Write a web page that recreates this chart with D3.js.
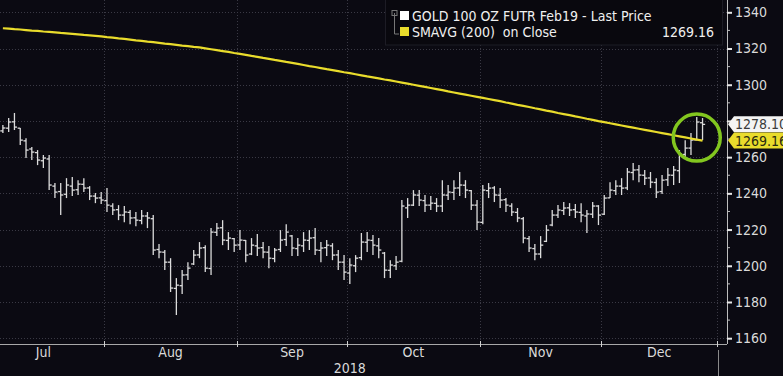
<!DOCTYPE html>
<html>
<head>
<meta charset="UTF-8">
<script src="https://d3js.org/d3.v7.min.js"></script>
<style>
  body { margin: 0; background: #0b0a12; }
  svg { display: block; }
  text {
    font-family: "DejaVu Sans Condensed", "Liberation Sans Narrow", "DejaVu Sans", sans-serif;
    font-stretch: condensed;
    white-space: pre;
  }
</style>
</head>
<body>
<svg id="chart" width="783" height="376"></svg>
<script>
// month categories (trading days per month, Jul 2018 .. Dec 2018)
var months = ["Jul", "Aug", "Sep", "Oct", "Nov", "Dec"];
var tradingDays = [21, 23, 19, 23, 21, 20];
var yearLabel = "2018";
var firstBar = 3; // first visible bar = 4th trading day of July

var openPx = [1274.5,1276.0,1279.5,1276.0,1269.0,1264.5,1262.5,1258.0,1259.0,1244.0,
  1241.0,1239.5,1244.0,1242.0,1245.0,1243.0,1238.5,1237.5,1236.0,1233.0,
  1231.0,1228.0,1229.5,1226.5,1225.0,1227.5,1226.0,1209.0,1207.5,1202.0,
  1187.5,1189.0,1195.0,1201.0,1206.0,1210.0,1198.5,1218.5,1221.0,1214.0,
  1215.0,1211.5,1214.0,1206.5,1211.0,1210.0,1207.5,1204.0,1209.0,1214.5,
  1216.5,1209.5,1211.0,1214.0,1215.5,1208.5,1210.0,1211.0,1206.0,1202.0,
  1196.0,1200.0,1204.5,1213.0,1214.0,1211.0,1207.0,1197.5,1200.0,1202.5,
  1232.0,1233.5,1239.0,1236.0,1233.5,1234.5,1233.0,1239.0,1240.5,1243.0,
  1244.5,1241.5,1233.5,1224.0,1241.5,1243.0,1239.0,1236.5,1233.0,1229.5,
  1226.0,1215.0,1209.5,1206.5,1213.5,1222.5,1228.0,1230.5,1232.0,1231.0,
  1229.5,1227.5,1228.5,1233.0,1228.5,1237.5,1241.5,1244.0,1243.0,1251.5,
  1253.0,1250.0,1248.5,1246.0,1241.0,1247.5,1250.0,1252.5,1261.5,1265.0,
  1269.5,1279.0];

var highPx = [1277.7,1281.6,1284.4,1276.1,1270.5,1265.6,1263.9,1261.2,1261.2,1245.7,
  1245.7,1248.4,1249.0,1247.3,1248.4,1244.0,1240.2,1240.7,1242.9,1234.6,
  1233.5,1233.0,1230.8,1229.7,1230.8,1229.7,1228.0,1212.0,1208.7,1204.2,
  1193.2,1197.6,1202.0,1208.7,1213.1,1211.4,1220.8,1223.6,1225.2,1218.6,
  1215.3,1219.7,1214.2,1215.3,1217.5,1213.1,1210.9,1209.8,1219.7,1223.0,
  1217.0,1215.3,1218.6,1219.7,1220.8,1213.1,1214.2,1212.5,1208.7,1205.9,
  1204.2,1205.9,1218.1,1218.6,1217.0,1215.3,1207.6,1203.1,1205.4,1236.3,
  1237.4,1241.8,1241.8,1239.1,1238.5,1237.4,1247.3,1244.6,1247.3,1251.8,
  1247.3,1241.8,1236.3,1244.6,1245.7,1244.0,1242.9,1237.4,1234.6,1231.9,
  1226.9,1216.4,1212.0,1216.4,1222.5,1230.8,1233.5,1235.2,1234.6,1234.1,
  1234.6,1230.8,1235.2,1233.5,1239.1,1246.2,1247.3,1248.4,1254.0,1256.7,
  1255.6,1252.9,1251.8,1248.4,1250.1,1254.0,1255.1,1263.9,1269.4,1273.3,
  1282.2,1281.6];

var lowPx = [1273.3,1273.9,1275.0,1266.7,1259.5,1258.4,1255.6,1254.0,1241.8,1237.4,
  1228.0,1237.4,1238.5,1239.1,1240.7,1236.3,1234.6,1234.1,1229.7,1228.0,
  1225.2,1224.1,1223.0,1221.9,1223.0,1220.8,1205.9,1204.2,1197.6,1185.5,
  1172.8,1184.4,1192.1,1200.4,1204.2,1196.5,1194.9,1216.4,1211.4,1208.7,
  1207.6,1208.7,1202.0,1205.9,1205.4,1204.2,1198.7,1202.0,1207.6,1210.9,
  1205.4,1205.4,1207.6,1208.7,1205.9,1202.0,1205.4,1203.1,1197.6,1192.1,
  1189.9,1196.5,1203.1,1207.6,1205.9,1204.2,1193.2,1193.2,1197.6,1202.0,
  1226.4,1233.0,1233.0,1229.7,1230.8,1229.7,1229.7,1236.3,1236.3,1238.5,
  1237.4,1230.8,1219.7,1223.0,1237.4,1235.2,1231.9,1229.7,1227.5,1224.1,
  1212.5,1207.6,1203.1,1204.2,1213.1,1221.9,1226.4,1228.0,1227.5,1226.4,
  1224.1,1218.1,1226.4,1222.5,1228.0,1237.4,1239.1,1239.1,1241.8,1247.3,
  1246.2,1244.6,1242.9,1237.4,1239.6,1244.0,1244.6,1245.7,1259.5,1261.2,
  1269.4,1269.4];

var closePx = [1276.1,1279.4,1276.6,1269.4,1263.9,1262.8,1258.4,1259.5,1244.6,1240.7,
  1239.1,1244.6,1241.8,1245.1,1242.9,1238.5,1237.4,1236.3,1233.5,1230.8,
  1228.0,1229.7,1226.4,1225.2,1227.5,1226.4,1208.7,1207.6,1202.0,1187.7,
  1189.3,1194.9,1198.7,1205.9,1209.8,1198.7,1218.6,1220.8,1214.2,1215.3,
  1211.4,1214.2,1205.9,1211.4,1209.8,1207.6,1204.2,1208.7,1214.2,1218.6,
  1209.8,1211.4,1214.2,1215.3,1208.7,1209.8,1211.4,1205.9,1202.0,1196.5,
  1200.4,1204.2,1213.1,1214.2,1211.4,1208.7,1197.6,1200.4,1202.0,1233.0,
  1233.5,1239.1,1236.3,1233.5,1234.6,1233.0,1239.1,1240.7,1242.9,1244.6,
  1241.8,1233.5,1224.1,1241.8,1242.9,1239.1,1236.3,1233.5,1229.7,1226.4,
  1215.3,1209.8,1206.5,1211.4,1219.7,1228.0,1230.8,1231.9,1230.8,1229.7,
  1228.0,1228.6,1233.0,1228.0,1237.4,1241.8,1244.0,1242.9,1251.8,1252.9,
  1250.1,1248.4,1246.2,1240.7,1247.3,1250.1,1252.9,1261.7,1265.0,1269.4,
  1279.4,1278.1];

// 200 day simple moving average on close
var smaPx = [1331.2,1331.0,1330.7,1330.5,1330.2,1329.9,1329.7,1329.4,1329.2,1328.9,
  1328.6,1328.4,1328.1,1327.8,1327.5,1327.3,1327.0,1326.7,1326.3,1326.0,
  1325.6,1325.3,1324.9,1324.5,1324.2,1323.8,1323.5,1323.1,1322.7,1322.4,
  1322.0,1321.6,1321.3,1320.9,1320.6,1320.1,1319.6,1319.1,1318.6,1318.1,
  1317.5,1317.0,1316.5,1315.9,1315.4,1314.8,1314.3,1313.7,1313.2,1312.6,
  1312.1,1311.5,1310.9,1310.3,1309.8,1309.2,1308.6,1308.1,1307.5,1306.9,
  1306.4,1305.8,1305.2,1304.6,1304.1,1303.5,1302.9,1302.4,1301.8,1301.2,
  1300.6,1300.0,1299.4,1298.8,1298.2,1297.6,1297.0,1296.3,1295.7,1295.1,
  1294.5,1293.9,1293.3,1292.7,1292.1,1291.5,1290.9,1290.2,1289.6,1288.9,
  1288.3,1287.7,1287.0,1286.4,1285.7,1285.1,1284.4,1283.8,1283.2,1282.5,
  1281.9,1281.2,1280.6,1279.9,1279.3,1278.7,1278.1,1277.5,1276.9,1276.3,
  1275.7,1275.1,1274.5,1273.9,1273.3,1272.7,1272.1,1271.5,1270.9,1270.3,
  1269.7,1269.16];

var priceTicks = [1160, 1180, 1200, 1220, 1240, 1260, 1280, 1300, 1320, 1340];
var lastPrice = 1278.10;
var lastSma = 1269.16;
var legendNames = ["GOLD 100 OZ FUTR Feb19 - Last Price", "SMAVG (200)  on Close"];

var W = 783, H = 376;
var plotRight = 727, axisY = 344;
var yellow = "#e9dc2c";

var totalDays = d3.sum(tradingDays);
var x = d3.scaleLinear().domain([firstBar - 0.5, totalDays - 0.5]).range([0, 717]);
var y = d3.scaleLinear().domain([1160, 1340]).range([338.2, 12.3]);

var bars = closePx.map(function (c, i) {
    return { t: i + firstBar, o: openPx[i], h: highPx[i], l: lowPx[i], c: c, s: smaPx[i] };
});

// month boundaries in trading-day units
var bounds = [-0.5];
tradingDays.forEach(function (n, i) { bounds.push(bounds[i] + n); });

var svg = d3.select("#chart");
svg.append("rect").attr("width", W).attr("height", H).attr("fill", "#0b0a12");

// grid
var grid = svg.append("g").attr("stroke", "#3a3944").attr("stroke-dasharray", "1,2").attr("stroke-width", 1);
grid.selectAll(".hg").data(priceTicks).enter().append("line")
    .attr("x1", 0).attr("x2", plotRight)
    .attr("y1", function (d) { return Math.round(y(d)) + 0.5; })
    .attr("y2", function (d) { return Math.round(y(d)) + 0.5; });
grid.selectAll(".vg").data(bounds.slice(1)).enter().append("line")
    .attr("y1", 0).attr("y2", axisY)
    .attr("x1", function (d) { return Math.round(x(d)) + 0.5; })
    .attr("x2", function (d) { return Math.round(x(d)) + 0.5; });

// OHLC bars
var bg = svg.append("g").attr("stroke", "#dcdcdc").attr("stroke-width", 1.3);
bars.forEach(function (d) {
    var cx = x(d.t);
    bg.append("line").attr("x1", cx).attr("x2", cx).attr("y1", y(d.h)).attr("y2", y(d.l));
    bg.append("line").attr("x1", cx - 2.6).attr("x2", cx).attr("y1", y(d.o)).attr("y2", y(d.o));
    bg.append("line").attr("x1", cx).attr("x2", cx + 2.6).attr("y1", y(d.c)).attr("y2", y(d.c));
});

// moving average
svg.append("path").datum(bars)
    .attr("fill", "none").attr("stroke", yellow).attr("stroke-width", 2.2)
    .attr("d", d3.line().x(function (d) { return x(d.t); }).y(function (d) { return y(d.s); }));

// highlight circle around last bars
svg.append("circle")
    .attr("cx", x(bars.length - 2 + firstBar)).attr("cy", y(1270.8)).attr("r", 23.5)
    .attr("fill", "none").attr("stroke", "#82c61f").attr("stroke-width", 3.5);

// legend
var lg = svg.append("g");
lg.append("rect").attr("x", 385.5).attr("y", -1).attr("width", 337).attr("height", 46)
    .attr("fill", "#09080e").attr("stroke", "#1d1c25");
lg.append("path").attr("d", "M394.5,13 V34 H399").attr("fill", "none").attr("stroke", "#777").attr("stroke-width", 1);
lg.append("rect").attr("x", 392).attr("y", 10.5).attr("width", 5).attr("height", 5).attr("fill", "none").attr("stroke", "#777");
lg.append("rect").attr("x", 400).attr("y", 11).attr("width", 9).attr("height", 9).attr("fill", "#ffffff");
lg.append("rect").attr("x", 400).attr("y", 27).attr("width", 9).attr("height", 9).attr("fill", yellow);
lg.selectAll(".lt").data(legendNames).enter().append("text")
    .attr("x", 412).attr("y", function (d, i) { return 20.5 + i * 16; })
    .attr("fill", "#f0f0f0").attr("font-size", 14).text(function (d) { return d; });
lg.append("text").attr("x", 714).attr("y", 36.5).attr("text-anchor", "end")
    .attr("fill", "#f0f0f0").attr("font-size", 14).text(lastSma.toFixed(2));

// right axis
var ra = svg.append("g").attr("transform", "translate(" + plotRight + ",0)");
ra.append("line").attr("x1", 0.5).attr("x2", 0.5).attr("y1", 0).attr("y2", axisY).attr("stroke", "#bdbdbd");
ra.selectAll(".mt").data(d3.range(1170, 1340, 20)).enter().append("line")
    .attr("x1", 0).attr("x2", 3).attr("stroke", "#bdbdbd")
    .attr("y1", function (d) { return y(d); }).attr("y2", function (d) { return y(d); });
// the label sitting under the last-price tag is hidden, as on the terminal
var yAxis = d3.axisRight(y).tickValues(priceTicks).tickSize(5).tickPadding(3)
    .tickFormat(function (d) { return Math.abs(d - lastPrice) < 8 ? "" : d3.format("d")(d); });
ra.append("g").call(yAxis)
    .call(function (g) { g.select(".domain").remove(); })
    .call(function (g) { g.selectAll("line").attr("stroke", "#e6e6e6").attr("stroke-width", 2); })
    .call(function (g) {
        g.selectAll("text").attr("fill", "#dadada").attr("font-size", 14)
            .style("font-family", "'DejaVu Sans Condensed', 'Liberation Sans Narrow', sans-serif");
    });

// last value tags
function tag(v, fill, textFill) {
    var cy = y(v);
    var g = svg.append("g");
    g.append("path")
        .attr("d", "M" + (plotRight + 1) + "," + cy + " L" + (plotRight + 7) + "," + (cy - 8) +
            " H" + W + " V" + (cy + 8) + " H" + (plotRight + 7) + " Z")
        .attr("fill", fill);
    g.append("text").attr("x", plotRight + 8).attr("y", cy + 5).attr("fill", textFill)
        .attr("font-size", 14).text(v.toFixed(2));
}
tag(lastPrice, "#f4f4f4", "#3a3a3a");
tag(lastSma, yellow, "#2a2a10");

// bottom axis
var ba = svg.append("g");
ba.append("line").attr("x1", 0).attr("x2", plotRight).attr("y1", axisY + 0.5).attr("y2", axisY + 0.5).attr("stroke", "#a8a8a8");
ba.selectAll(".bt").data(bounds.slice(1)).enter().append("line")
    .attr("x1", function (d) { return Math.round(x(d)) + 0.5; })
    .attr("x2", function (d) { return Math.round(x(d)) + 0.5; })
    .attr("y1", axisY - 3).attr("y2", axisY + 3).attr("stroke", "#cfcfcf");
ba.selectAll(".ml").data(months).enter().append("text")
    .attr("x", function (d, i) { return x((bounds[i] + bounds[i + 1]) / 2); })
    .attr("y", 357).attr("text-anchor", "middle").attr("fill", "#dadada").attr("font-size", 14)
    .text(function (d) { return d; });
ba.append("text").attr("x", x((bounds[0] + bounds[bounds.length - 1]) / 2)).attr("y", 373)
    .attr("text-anchor", "middle").attr("fill", "#dadada").attr("font-size", 14).text(yearLabel);
ba.append("line").attr("x1", 718.5).attr("x2", 718.5).attr("y1", 350).attr("y2", H).attr("stroke", "#8a8a8a");
</script>
</body>
</html>
